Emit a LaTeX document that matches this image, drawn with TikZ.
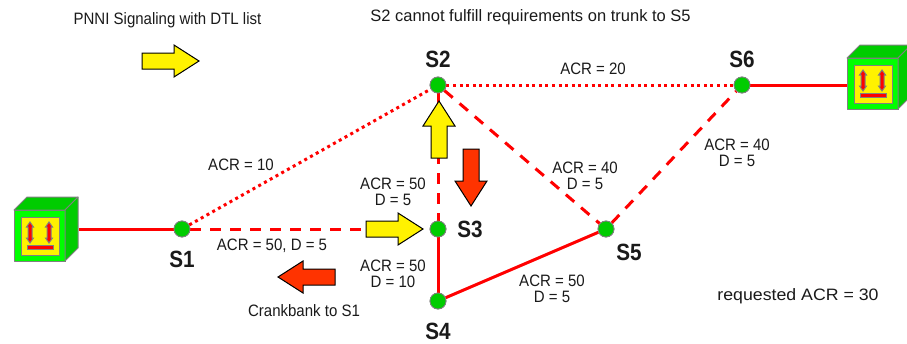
\documentclass[tikz,border=0pt]{standalone}
\usepackage{fontspec}
\setmainfont{Liberation Sans}
\definecolor{sidegreen}{HTML}{00CC00}
\definecolor{frontgreen}{HTML}{00FF00}
\definecolor{crank}{HTML}{FF3300}
\definecolor{txt}{HTML}{1A1A1A}
\tikzset{
  every node/.style={text=txt},
  lbl/.style={font=\fontsize{16.5}{16}\selectfont,align=center,inner sep=0pt,xscale=0.91,transform shape},
  sw/.style={font=\bfseries\fontsize{23.5}{24}\selectfont,inner sep=0pt,xscale=0.88,transform shape},
  sdot/.style={circle,fill=sidegreen,draw=gray,line width=0.8pt,minimum size=16pt,inner sep=0pt},
  solidlink/.style={draw=red,line width=3pt},
  dashlink/.style={draw=red,line width=3pt,dash pattern=on 11pt off 9pt},
  dotlink/.style={draw=red,line width=3pt,dash pattern=on 3pt off 3.6pt},
  block/.style={draw=black,line width=1pt,line join=miter},
  boxline/.style={draw=gray,line width=1pt,line join=round},
  pole/.style={draw=gray,fill=red,line width=1pt},
}
% block arrow pointing right from (0,0); tip at (57,0)
\newcommand{\blockarrow}[4]{% x,y,angle,colour
  \draw[block,fill=#4,shift={(#1,#2)},rotate=#3] (0,-8) -- (32,-8) -- (32,-16) -- (57,0) -- (32,16) -- (32,8) -- (0,8) -- cycle;
}
% network box: front top-left corner at (#1,#2)
\newcommand{\netbox}[3]{%
  \begin{scope}[shift={(#1,#2)}]
    \node[boxline,fill=frontgreen,minimum width=51pt,minimum height=51pt,inner sep=0pt,anchor=north west] (#3) at (0,0) {};
    \filldraw[boxline,fill=sidegreen] (0,0) -- (13,-13) -- (64,-13) -- (51,0) -- cycle;
    \filldraw[boxline,fill=sidegreen] (51,0) -- (64,-13) -- (64,38) -- (51,51) -- cycle;
    \filldraw[boxline,fill=yellow] (7,7) rectangle (45,45);
    \filldraw[pole] (16,12) -- (19.5,17) -- (18,17) -- (18,28) -- (19.5,28) -- (16,33) -- (12.5,28) -- (14,28) -- (14,17) -- (12.5,17) -- cycle;
    \filldraw[pole] (35,12) -- (38.5,17) -- (37,17) -- (37,28) -- (38.5,28) -- (35,33) -- (31.5,28) -- (33,28) -- (33,17) -- (31.5,17) -- cycle;
    \filldraw[pole] (13,35) rectangle (39,39);
  \end{scope}
}
\begin{document}
\begin{tikzpicture}[x=1pt,y=-1pt]
\useasboundingbox (0,0) rectangle (907,343);
\begin{scope}
\clip (0,0) rectangle (907,343);
\coordinate (leftout) at (79,229);
\coordinate (rightout) at (847,85);
\node[sdot] (S1) at (182,229) {};
\node[sdot] (S2) at (438,85) {};
\node[sdot] (S3) at (438,229) {};
\node[sdot] (S4) at (438,301) {};
\node[sdot] (S5) at (606,229) {};
\node[sdot] (S6) at (742,85) {};
\path[solidlink] (leftout) -- (S1);
\path[solidlink] (S6) -- (rightout);
\path[dashlink] (S1) -- (S3);
\path[dotlink] (S1) -- (S2);
\path[dotlink] (S2) -- (S6);
\path[dashlink] (S2) -- (S3);
\path[dashlink] (S2) -- (S5);
\path[dashlink] (S5) -- (S6);
\path[solidlink] (S3) -- (S4);
\path[solidlink] (S4) -- (S5);
\foreach \n in {1,...,6} {\node[sdot] at (S\n) {};}
\netbox{14}{210}{boxL}
\netbox{847}{58}{boxR}
\blockarrow{142}{61}{0}{yellow}
\blockarrow{439}{158}{90}{yellow}
\blockarrow{471}{149}{-90}{crank}
\blockarrow{366}{229}{0}{yellow}
\blockarrow{335}{277}{180}{crank}
\end{scope}
\node[sw] (t1) at (182,259) {S1};
\node[sw] (t2) at (438,59) {S2};
\node[sw] (t3) at (470,229) {S3};
\node[sw] (t4) at (438,331) {S4};
\node[sw] (t5) at (629,252) {S5};
\node[sw] (t6) at (742,59) {S6};
\node[lbl] (a) at (167.5,20) {PNNI Signaling with DTL list};
\node[lbl,xscale=1.1] (b) at (530.5,17) {S2 cannot fulfill requirements on trunk to S5};
\node[lbl] (c) at (593,69) {ACR = 20};
\node[lbl] (d) at (241,165) {ACR = 10};
\node[lbl] (e) at (393,192) {ACR = 50\\D = 5};
\node[lbl] (f) at (585,176) {ACR = 40\\D = 5};
\node[lbl] (g) at (737,153) {ACR = 40\\D = 5};
\node[lbl] (h) at (272,246) {ACR = 50, D = 5};
\node[lbl] (i) at (393,274) {ACR = 50\\D = 10};
\node[lbl] (j) at (552,289) {ACR = 50\\D = 5};
\node[lbl] (k) at (304,311) {Crankbank to S1};
\node[lbl,xscale=1.18] (l) at (798,296) {requested ACR = 30};
\end{tikzpicture}
\end{document}
